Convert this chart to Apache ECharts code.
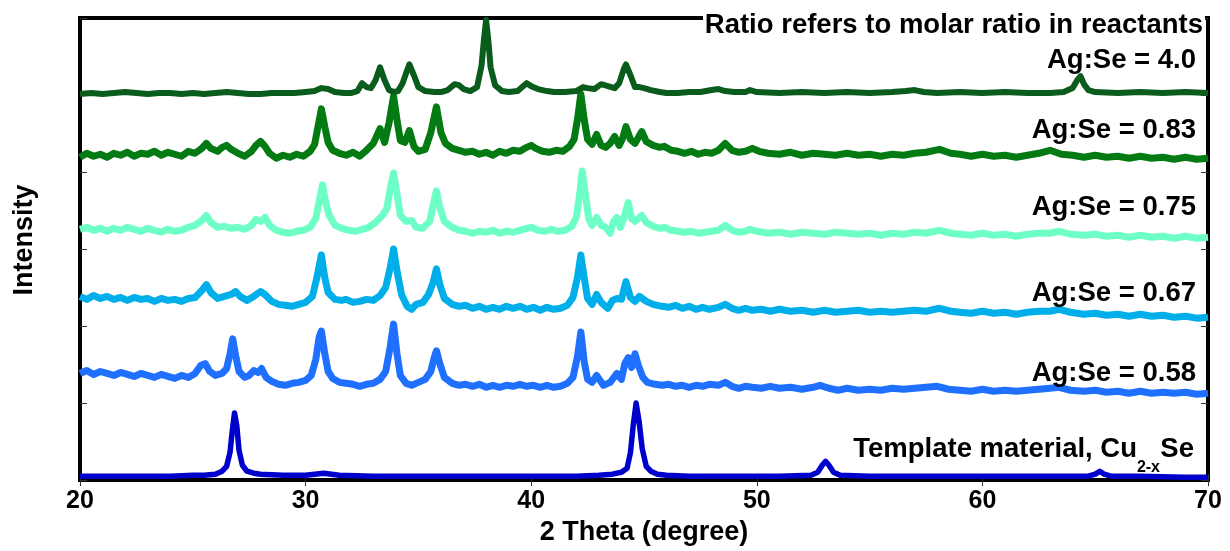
<!DOCTYPE html>
<html><head><meta charset="utf-8">
<script src="https://cdn.jsdelivr.net/npm/echarts@6/dist/echarts.min.js"></script>
<style>html,body{margin:0;padding:0;background:#fff}#c{width:1230px;height:551px}</style>
</head><body><div id="c"></div>
<script>
// 2θ (degree) vs offset intensity (arbitrary units)
const ag40 = [[20,391],[20.5,392],[21,391],[21.5,392],[22,393],[22.5,392],[23,391],[23.5,392],[24,392],[24.5,391],[25,392],[25.5,391],[26,392],[26.5,393],[27,392],[27.5,391],[28,391],[28.5,392],[29,392],[29.5,392],[30,393],[30.4,394],[30.7,397],[31.0,396],[31.3,393],[31.7,392],[32,392],[32.3,394],[32.5,402],[32.7,398],[32.9,397],[33.1,405],[33.3,418],[33.5,405],[33.7,395],[33.9,393],[34.1,394],[34.3,402],[34.5,415],[34.6,421],[34.8,410],[35,398],[35.3,394],[35.7,393],[36,393],[36.3,395],[36.6,401],[36.8,400],[37,396],[37.3,394],[37.6,398],[37.8,420],[37.9,445],[38.0,466],[38.1,445],[38.2,418],[38.4,400],[38.7,394],[39,393],[39.4,394],[39.6,398],[39.8,402],[40.0,399],[40.3,396],[40.7,394],[41,393],[41.5,393],[42,394],[42.3,398],[42.5,397],[42.8,396],[43.1,401],[43.4,399],[43.7,397],[43.9,402],[44.1,416],[44.2,421],[44.4,410],[44.6,398],[44.8,398],[45,397],[45.3,395],[45.7,393],[46,392],[46.5,392],[47,393],[47.5,393],[48,395],[48.3,396],[48.6,394],[49,393],[49.5,393],[49.7,395],[50,393],[51,392],[52,393],[53,392],[54,393],[55,392],[56,393],[56.6,394],[57,395],[57.4,393],[58,392],[59,393],[60,392],[61,393],[62,392],[63,392],[63.6,393],[64.0,397],[64.2,405],[64.35,409],[64.5,401],[64.7,395],[65,393],[66,392],[67,393],[68,392],[69,393],[70,392]];

const ag083 = [[20,327],[20.3,331],[20.6,328],[20.9,330],[21.2,327],[21.5,331],[21.8,329],[22.1,332],[22.4,328],[22.7,331],[23,330],[23.3,333],[23.6,329],[23.9,332],[24.2,330],[24.5,328],[24.8,333],[25.1,331],[25.4,336],[25.6,341],[25.8,336],[26.1,333],[26.3,337],[26.5,339],[26.7,335],[27,331],[27.3,328],[27.6,333],[27.8,339],[28,343],[28.2,338],[28.4,331],[28.7,326],[29,329],[29.3,327],[29.6,330],[29.9,328],[30.2,333],[30.4,340],[30.55,358],[30.7,376],[30.85,358],[31,342],[31.2,334],[31.5,331],[31.8,329],[32.1,332],[32.4,328],[32.7,334],[33,341],[33.3,356],[33.5,342],[33.7,362],[33.9,389],[34.05,365],[34.2,344],[34.4,342],[34.6,354],[34.8,338],[35,333],[35.3,335],[35.55,352],[35.8,378],[36.0,352],[36.2,341],[36.5,336],[36.8,334],[37.1,332],[37.4,333],[37.7,330],[38,332],[38.3,329],[38.6,333],[38.9,331],[39.2,334],[39.5,333],[39.8,337],[40,339],[40.2,336],[40.5,333],[40.8,332],[41.1,334],[41.4,333],[41.7,338],[41.9,345],[42.05,365],[42.2,391],[42.35,365],[42.5,345],[42.7,340],[42.9,350],[43.1,339],[43.3,337],[43.5,341],[43.7,348],[43.9,339],[44.05,346],[44.2,358],[44.4,345],[44.6,341],[44.9,353],[45.1,343],[45.4,339],[45.7,337],[45.9,338],[46.2,334],[46.5,333],[46.8,331],[47.1,333],[47.4,330],[47.7,332],[48,331],[48.3,334],[48.6,341],[48.9,334],[49.2,332],[49.5,333],[49.8,336],[50.1,333],[50.5,331],[51,330],[51.5,332],[52,329],[52.5,331],[53,330],[53.5,329],[54,331],[54.5,329],[55,330],[55.5,328],[56,330],[56.5,329],[57,331],[57.5,332],[58.1,335],[58.6,331],[59,330],[59.5,328],[60,330],[60.5,328],[61,329],[61.5,327],[62,329],[62.5,331],[63,334],[63.5,330],[64,329],[64.5,327],[65,329],[65.5,327],[66,328],[66.5,326],[67,328],[67.5,326],[68,327],[68.5,325],[69,327],[69.5,325],[70,326]];

const ag075 = [[20,254],[20.3,256],[20.6,253],[20.9,255],[21.2,252],[21.5,255],[21.8,253],[22.1,256],[22.4,254],[22.7,252],[23,255],[23.3,253],[23.6,251],[23.9,254],[24.2,252],[24.5,253],[24.8,256],[25.1,258],[25.4,263],[25.6,268],[25.8,261],[26.1,256],[26.4,257],[26.7,255],[27,256],[27.3,254],[27.6,258],[27.8,264],[28.0,262],[28.2,266],[28.4,258],[28.7,253],[29,251],[29.3,250],[29.6,252],[29.9,253],[30.2,256],[30.45,265],[30.6,282],[30.75,299],[30.9,280],[31.05,268],[31.3,258],[31.6,255],[31.9,253],[32.2,252],[32.5,254],[32.8,256],[33.1,261],[33.4,268],[33.6,275],[33.75,295],[33.9,311],[34.05,290],[34.2,268],[34.45,262],[34.7,263],[34.9,256],[35.2,255],[35.5,262],[35.65,278],[35.8,293],[35.95,276],[36.15,262],[36.5,256],[36.8,253],[37.1,252],[37.4,250],[37.7,252],[38,251],[38.3,253],[38.6,250],[38.9,252],[39.2,251],[39.5,253],[39.8,255],[40.0,256],[40.3,253],[40.6,252],[40.9,254],[41.2,252],[41.5,253],[41.8,257],[42.0,266],[42.15,290],[42.26,313],[42.4,290],[42.55,265],[42.7,258],[42.9,266],[43.1,258],[43.3,256],[43.5,250],[43.65,262],[43.8,266],[43.95,256],[44.1,265],[44.3,281],[44.45,265],[44.6,262],[44.9,268],[45.1,261],[45.4,257],[45.7,255],[45.9,256],[46.2,253],[46.5,252],[46.8,251],[47.1,252],[47.4,250],[47.7,251],[48,252],[48.3,253],[48.6,258],[48.9,253],[49.2,251],[49.5,252],[49.7,254],[50,252],[50.5,250],[51,251],[51.5,249],[52,251],[52.5,250],[53,249],[53.5,251],[54,250],[54.5,249],[55,250],[55.5,248],[56,250],[56.5,249],[57,251],[57.5,250],[58.1,253],[58.6,250],[59,249],[59.5,248],[60,250],[60.5,248],[61,249],[61.5,247],[62,249],[62.5,250],[63,250],[63.4,252],[63.9,249],[64.5,248],[65,249],[65.5,247],[66,248],[66.5,246],[67,248],[67.5,246],[68,247],[68.5,245],[69,247],[69.5,245],[70,246]];

const ag067 = [[20,186],[20.3,183],[20.6,187],[20.9,184],[21.2,186],[21.5,183],[21.8,185],[22.1,182],[22.4,185],[22.7,183],[23,184],[23.3,181],[23.6,184],[23.9,182],[24.2,183],[24.5,181],[24.8,184],[25.1,185],[25.4,192],[25.6,198],[25.8,190],[26.1,184],[26.4,186],[26.7,188],[26.9,191],[27.1,186],[27.4,182],[27.7,186],[28,191],[28.2,188],[28.5,181],[28.8,178],[29.1,177],[29.4,176],[29.7,178],[30,180],[30.3,186],[30.5,205],[30.7,228],[30.85,205],[31.0,190],[31.3,183],[31.6,182],[31.8,183],[32.1,180],[32.4,181],[32.7,183],[33,182],[33.3,187],[33.55,195],[33.75,215],[33.9,234],[34.05,212],[34.25,188],[34.5,176],[34.7,173],[34.9,178],[35.2,180],[35.45,188],[35.65,200],[35.8,214],[35.95,198],[36.15,184],[36.5,178],[36.8,176],[37.1,177],[37.4,174],[37.7,176],[38,173],[38.3,175],[38.6,173],[38.9,176],[39.2,174],[39.5,176],[39.8,173],[40.1,175],[40.4,172],[40.7,175],[41,173],[41.3,174],[41.6,177],[41.85,185],[42.05,205],[42.2,228],[42.35,205],[42.5,184],[42.7,178],[42.9,188],[43.1,180],[43.4,174],[43.6,182],[43.8,184],[44.0,183],[44.2,201],[44.4,185],[44.6,181],[44.8,186],[45.1,181],[45.4,178],[45.8,176],[46.1,175],[46.4,177],[46.7,174],[47,176],[47.3,173],[47.6,175],[47.9,173],[48.3,175],[48.6,178],[48.9,174],[49.2,172],[49.5,174],[49.8,172],[50.2,173],[50.6,171],[51,173],[51.5,171],[52,172],[52.5,170],[53,172],[53.5,170],[54,171],[54.5,172],[55,170],[55.5,171],[56,170],[56.5,171],[57,172],[57.5,171],[58.1,174],[58.6,171],[59,170],[59.5,169],[60,171],[60.5,169],[61,170],[61.5,168],[62,170],[62.5,171],[63,171],[63.4,173],[63.9,170],[64.5,168],[65,169],[65.5,167],[66,168],[66.5,166],[67,168],[67.5,166],[68,167],[68.5,165],[69,166],[69.5,164],[70,165]];

const ag058 = [[20,108],[20.3,111],[20.6,107],[20.9,110],[21.2,108],[21.5,106],[21.8,109],[22.1,107],[22.4,105],[22.7,108],[23,106],[23.3,104],[23.6,107],[23.9,105],[24.2,103],[24.5,106],[24.8,104],[25.1,108],[25.35,116],[25.55,118],[25.75,110],[26,106],[26.3,108],[26.5,113],[26.65,128],[26.77,143],[26.9,126],[27.05,110],[27.3,104],[27.5,106],[27.7,111],[27.9,109],[28.05,113],[28.25,104],[28.5,100],[28.8,97],[29.1,96],[29.4,98],[29.7,99],[30,101],[30.25,106],[30.45,122],[30.6,145],[30.7,151],[30.85,128],[31.0,110],[31.2,103],[31.5,99],[31.8,98],[32.1,97],[32.4,95],[32.7,97],[33,98],[33.3,102],[33.55,110],[33.75,135],[33.9,158],[34.05,128],[34.2,106],[34.45,98],[34.7,96],[35,99],[35.3,102],[35.55,110],[35.7,124],[35.8,131],[35.95,118],[36.15,104],[36.5,98],[36.8,96],[37.1,97],[37.4,95],[37.7,97],[38,94],[38.3,96],[38.6,94],[38.9,96],[39.2,95],[39.5,97],[39.8,95],[40.1,96],[40.4,94],[40.7,96],[41,94],[41.3,95],[41.6,98],[41.85,104],[42.05,125],[42.2,150],[42.35,120],[42.5,102],[42.7,99],[42.9,106],[43.2,96],[43.5,99],[43.8,108],[44.0,102],[44.15,118],[44.3,124],[44.45,114],[44.6,128],[44.75,116],[44.95,104],[45.15,99],[45.5,97],[45.8,96],[46.1,97],[46.4,95],[46.7,96],[47,94],[47.3,96],[47.6,95],[47.9,97],[48.3,96],[48.6,99],[48.9,95],[49.2,93],[49.5,95],[49.8,94],[50.2,93],[50.6,95],[51,93],[51.5,94],[52,92],[52.5,94],[52.8,96],[53.2,93],[53.6,91],[54,93],[54.5,91],[55,92],[55.5,91],[56,93],[56.5,92],[57,93],[57.5,94],[58,95],[58.5,92],[59,91],[59.5,90],[60,92],[60.5,90],[61,91],[61.5,90],[62,91],[62.5,92],[63,93],[63.4,94],[63.9,91],[64.5,90],[65,91],[65.5,89],[66,90],[66.5,88],[67,90],[67.5,88],[68,89],[68.5,88],[69,89],[69.5,87],[70,88]];

const template = [[20,4],[21,4],[22,4],[23,4],[24,4],[25,5],[25.5,5],[26,6],[26.3,9],[26.5,14],[26.65,28],[26.75,50],[26.85,68],[26.95,55],[27.05,30],[27.2,15],[27.4,9],[27.7,7],[28,6],[29,5],[30,5],[30.8,7],[31.5,5],[33,4],[35,4],[37,4],[39,4],[41,4],[42,4],[43,5],[43.6,6],[44.0,8],[44.25,12],[44.4,28],[44.52,55],[44.65,78],[44.78,60],[44.92,32],[45.1,14],[45.3,9],[45.6,6],[46,5],[47,4],[49,4],[51,4],[52.4,5],[52.7,8],[52.9,15],[53.05,19],[53.2,15],[53.4,8],[53.7,5],[55,4],[57,4],[59,4],[61,4],[63,4],[64.7,4],[65.0,6],[65.2,9],[65.4,6],[65.7,4],[67,4],[69,3],[70,3]];

const seriesData = [ag40, ag083, ag075, ag067, ag058, template];
const seriesNames = ['Ag:Se = 4.0', 'Ag:Se = 0.83', 'Ag:Se = 0.75', 'Ag:Se = 0.67', 'Ag:Se = 0.58', 'Template material, Cu2-xSe'];
const seriesColors = ['#0A5C1C', '#037A12', '#6EFFC6', '#00AEEA', '#2070FF', '#0000CC'];
const noteText = 'Ratio refers to molar ratio in reactants';
const xAxisTitle = '2 Theta (degree)';
const yAxisTitle = 'Intensity';

const FF = '"Liberation Sans", Arial, Helvetica, sans-serif';
const chart = echarts.init(document.getElementById('c'), null, {renderer: 'canvas'});

function label(text, x, y, size) {
  return {type: 'text', z: 20, silent: true,
    style: {text: text, x: x, y: y, align: 'right', verticalAlign: 'middle', textAlign: 'right', textVerticalAlign: 'middle',
      font: 'bold ' + (size || 27.5) + 'px ' + FF, fill: '#000'}};
}

const tickStyle = {show: true, inside: true, length: 6, lineStyle: {color: '#333', width: 1}};

chart.setOption({
  animation: false,
  backgroundColor: '#fff',
  grid: {left: 80, right: 22, top: 18, bottom: 65, show: true, borderColor: '#000', borderWidth: 4, backgroundColor: 'transparent'},
  xAxis: [
    {type: 'value', min: 20, max: 70, interval: 10, position: 'bottom',
      axisLine: {show: false}, axisTick: tickStyle, splitLine: {show: false},
      axisLabel: {color: '#000', fontSize: 25, fontWeight: 'bold', fontFamily: FF, margin: 9},
      name: xAxisTitle, nameLocation: 'middle', nameGap: 34,
      nameTextStyle: {color: '#000', fontSize: 27, fontWeight: 'bold', fontFamily: FF}},
    {type: 'value', min: 20, max: 70, interval: 10, position: 'top',
      axisLine: {show: false}, axisTick: tickStyle, splitLine: {show: false}, axisLabel: {show: false}}
  ],
  yAxis: [
    {type: 'value', min: 0, max: 468, interval: 78, position: 'left',
      axisLine: {show: false}, axisTick: Object.assign({}, tickStyle, {length: 7}), splitLine: {show: false}, axisLabel: {show: false}},
    {type: 'value', min: 0, max: 468, interval: 78, position: 'right',
      axisLine: {show: false}, axisTick: Object.assign({}, tickStyle, {length: 7}), splitLine: {show: false}, axisLabel: {show: false}}
  ],
  series: seriesData.map((d, i) => ({
    name: seriesNames[i], type: 'line', data: d, xAxisIndex: 0, yAxisIndex: 0,
    showSymbol: false, symbol: 'none', silent: true,
    lineStyle: {color: seriesColors[i], width: i === 0 ? 6 : (i === 5 ? 5.5 : 7), join: 'round'},
    z: 2 + (5 - i)
  })),
  graphic: [
    {type: 'rect', z: 15, silent: true, shape: {x: 703, y: 8, width: 502, height: 14}, style: {fill: '#fff'}},
    label(noteText, 1203, 25),
    label(seriesNames[0], 1196, 60),
    label(seriesNames[1], 1196, 130),
    label(seriesNames[2], 1196, 207),
    label(seriesNames[3], 1196, 293),
    label(seriesNames[4], 1196, 373),
    label('Se', 1194, 449),
    label('2-x', 1160, 468, 16),
    label('Template material, Cu', 1137, 449),
    {type: 'text', z: 20, silent: true, x: 25, y: 240, rotation: Math.PI / 2,
      style: {text: yAxisTitle, x: 0, y: 0, align: 'center', verticalAlign: 'middle', textAlign: 'center', textVerticalAlign: 'middle',
        font: 'bold 27px ' + FF, fill: '#000'}}
  ]
});
</script>
</body></html>
